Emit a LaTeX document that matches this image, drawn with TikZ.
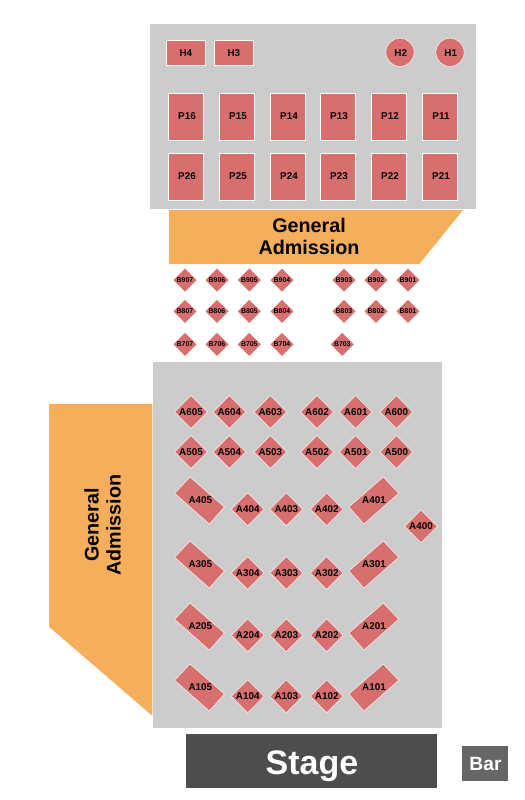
\documentclass[tikz,border=0pt]{standalone}
\usepackage{fontspec}
\setmainfont{Liberation Sans}
\definecolor{seat}{HTML}{D76F6E}
\definecolor{floorgray}{HTML}{CCCCCC}
\definecolor{ga}{HTML}{F4AE5C}
\definecolor{stagegray}{HTML}{4D4D4D}
\definecolor{bargray}{HTML}{666666}
\tikzset{
  seatshape/.style={fill=seat,draw=white,line width=.6pt,line join=miter},
  thinshape/.style={fill=seat,draw=white!90!seat,line width=.4pt,line join=miter},
  seatlabel/.style={font=\bfseries\fontsize{7.4pt}{8pt}\selectfont,text=black,inner sep=0pt},
  smalllabel/.style={font=\bfseries\fontsize{5.2pt}{6pt}\selectfont,text=black,inner sep=0pt},
  galabel/.style={font=\bfseries\fontsize{14.8pt}{16.5pt}\selectfont,align=center,inner sep=0pt},
}
\newcommand{\dia}[4]{\path[thinshape] (#1-#3,#2) -- (#1,#2-#3) -- (#1+#3,#2) -- (#1,#2+#3) -- cycle;
  \node[seatlabel] (#4) at (#1,#2) {#4};}
\newcommand{\bdia}[3]{\path[fill=seat] (#1-11.5,#2) -- (#1,#2-11.5) -- (#1+11.5,#2) -- (#1,#2+11.5) -- cycle;
  \node[smalllabel] (#3) at (#1,#2) {#3};}
\begin{document}
\begin{tikzpicture}[x=.75pt,y=-.75pt]
\useasboundingbox (0,0) rectangle (525,800);
\fill[white] (0,0) rectangle (525,800);
% floors
\fill[floorgray] (150,24) rectangle (476,209);
\fill[floorgray] (153,362) rectangle (442,728);
% general admission
\fill[ga] (169,210) -- (463,210) -- (419.3,264) -- (169,264) -- cycle;
\node[galabel] (gatop) at (309,236.5) {General\\Admission};
\fill[ga] (49,404) -- (152.3,404) -- (152.3,715.7) -- (49,626.7) -- cycle;
\node[galabel,rotate=90] (galeft) at (102.5,525) {General\\Admission};
% H
\foreach \x/\n in {166/H4,214/H3}{
  \path[seatshape] (\x.4,40.4) rectangle ++(39,25);
  \node[seatlabel] (\n) at ({\x+19.9},52.8) {\n};
}
\foreach \x/\n in {400/H2,450/H1}{
  \path[thinshape] (\x,52.3) circle[radius=10.6pt];
  \node[seatlabel] (\n) at ({\x+.8},52.8) {\n};
}
% P
\foreach \x/\a/\b in {168.5/P16/P26,219.5/P15/P25,270.5/P14/P24,320.5/P13/P23,371.5/P12/P22,422.5/P11/P21}{
  \path[seatshape] (\x,93.5) rectangle ++(35,47);
  \path[seatshape] (\x,153.5) rectangle ++(35,47);
  \node[seatlabel] (\a) at ({\x+18.5},116.5) {\a};
  \node[seatlabel] (\b) at ({\x+18.5},176.5) {\b};
}
% B
\foreach \x/\n in {185/B907,217/B906,249.3/B905,282/B904,344/B903,376/B902,408/B901}{\bdia{\x}{280}{\n}}
\foreach \x/\n in {185/B807,217/B806,249.3/B805,282/B804,344/B803,376/B802,408/B801}{\bdia{\x}{311.3}{\n}}
\foreach \x/\n in {185/B707,217/B706,249.3/B705,282/B704,342.3/B703}{\bdia{\x}{344.3}{\n}}
% A square
\foreach \x/\n in {191/A605,229.3/A604,270.3/A603,317/A602,355.7/A601,396.3/A600}{\dia{\x}{412}{16.4}{\n}}
\foreach \x/\n in {191/A505,229.3/A504,270.3/A503,317/A502,355.7/A501,396.3/A500}{\dia{\x}{452}{16.4}{\n}}
\foreach \y/\a/\b/\c in {509.3/A404/A403/A402,573/A304/A303/A302,635.3/A204/A203/A202,696.3/A104/A103/A102}{
  \dia{247.7}{\y}{16.4}{\a}\dia{286.3}{\y}{16.4}{\b}\dia{326.7}{\y}{16.4}{\c}
}
\dia{421}{526.3}{16.4}{A400}
% A slanted
\foreach \d/\l/\r/\ly in {0/A405/A401/499.7,64/A305/A301/563.7,126/A205/A201/626.3,187/A105/A101/687.3}{
  \path[thinshape] (190,477+\d) -- (224.4,507+\d) -- (209.3,524+\d) -- (174.6,493.3+\d) -- cycle;
  \path[thinshape] (383.3,477+\d) -- (398.7,493.3+\d) -- (364,524+\d) -- (348.9,507+\d) -- cycle;
  \node[seatlabel] (\l) at (200.3,\ly) {\l};
  \node[seatlabel] (\r) at (374,\ly) {\r};
}
% stage, bar
\fill[stagegray] (186,734) rectangle (437,787.7);
\node[font=\bfseries\fontsize{25.5pt}{28pt}\selectfont,text=white,inner sep=0pt,anchor=base] (stage) at (312,774) {Stage};
\fill[bargray] (462.3,746) rectangle (508,781);
\node[font=\bfseries\fontsize{14.4pt}{16pt}\selectfont,text=white,inner sep=0pt,anchor=base] (bar) at (485.5,770) {Bar};
\end{tikzpicture}
\end{document}
